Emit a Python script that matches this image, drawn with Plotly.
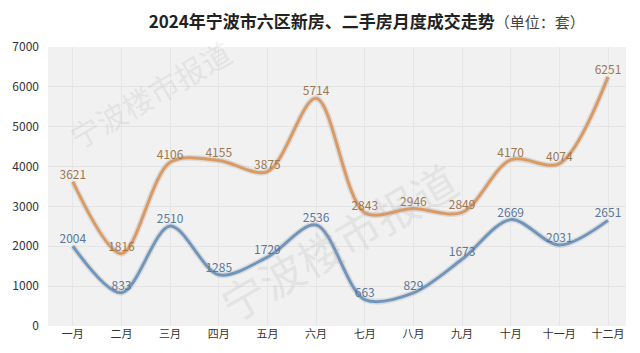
import plotly.graph_objects as go

months = ["一月", "二月", "三月", "四月", "五月", "六月", "七月", "八月", "九月", "十月", "十一月", "十二月"]
second_hand = [3621, 1816, 4106, 4155, 3875, 5714, 2843, 2946, 2849, 4170, 4074, 6251]
new_house = [2004, 833, 2510, 1285, 1729, 2536, 663, 829, 1673, 2669, 2031, 2651]
y_ticks = [0, 1000, 2000, 3000, 4000, 5000, 6000, 7000]

x = list(range(len(months)))
font_cjk = "Noto Sans CJK SC, Microsoft YaHei, sans-serif"

fig = go.Figure()

# soft shadows
for vals in (second_hand, new_house):
    fig.add_trace(go.Scatter(
        x=x, y=vals, mode="lines", line=dict(color="rgba(120,120,120,0.18)", width=6, shape="spline", smoothing=0.9),
        hoverinfo="skip", showlegend=False))

fig.add_trace(go.Scatter(
    x=x, y=second_hand, mode="lines+text", name="二手房",
    line=dict(color="#dc9a63", width=3, shape="spline", smoothing=0.9),
    text=[str(v) for v in second_hand], textposition="top center",
    textfont=dict(color="#a07650", size=12, family=font_cjk),
    showlegend=False))
fig.add_trace(go.Scatter(
    x=x, y=new_house, mode="lines+text", name="新房",
    line=dict(color="#7096be", width=3, shape="spline", smoothing=0.9),
    text=[str(v) for v in new_house], textposition="top center",
    textfont=dict(color="#5a7898", size=12, family=font_cjk),
    showlegend=False))

# watermarks
fig.add_annotation(text="宁波楼市报道", x=145, y=95, xref="paper", yref="paper",
                   showarrow=False, textangle=-30, xanchor="center", yanchor="middle",
                   font=dict(size=30, color="rgba(170,170,170,0.2)", family=font_cjk))
fig.add_annotation(text="宁波楼市报道", x=335, y=245, xref="paper", yref="paper",
                   showarrow=False, textangle=-30, xanchor="center", yanchor="middle",
                   font=dict(size=44, color="rgba(170,170,170,0.2)", family=font_cjk))

# convert pixel positions of watermarks to paper coordinates
L, R, T, B = 42, 14, 47, 21
W, H = 640, 353
for ann in fig.layout.annotations:
    px, py = ann.x, ann.y
    ann.x = (px - L) / (W - L - R)
    ann.y = (H - B - py) / (H - T - B)

fig.update_layout(
    width=W, height=H,
    margin=dict(l=L, r=R, t=T, b=B),
    paper_bgcolor="white",
    plot_bgcolor="#f1f1f1",
    title=dict(
        text="<b>2024年宁波市六区新房、二手房月度成交走势</b><span style='font-size:15px;color:#444'>（单位：套）</span>",
        x=0.573, xanchor="center", y=0.937, yanchor="middle",
        font=dict(size=17, color="#222", family=font_cjk)),
    xaxis=dict(
        tickmode="array", tickvals=x, ticktext=months, range=[-0.51, 11.37],
        showgrid=True, gridcolor="#e6e6e6", zeroline=False, showline=False,
        tickfont=dict(size=11, color="#333", family=font_cjk), ticks=""),
    yaxis=dict(
        tickmode="array", tickvals=y_ticks, range=[0, 7000],
        showgrid=True, gridcolor="#e4e4e4", zeroline=False, showline=False,
        tickfont=dict(size=12, color="#333", family=font_cjk), ticks="", ticklabelstandoff=8),
)

fig.write_html("out.html")
